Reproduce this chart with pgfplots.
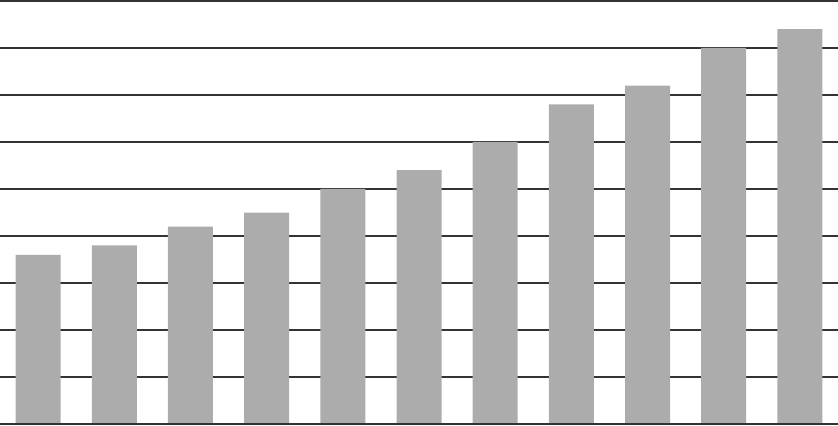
\documentclass[border=0pt]{standalone}
\usepackage{pgfplots}
\pgfplotsset{compat=1.18}
\definecolor{barc}{HTML}{ACACAC}
\definecolor{gridc}{HTML}{333333}
\begin{document}
\begin{tikzpicture}
\begin{axis}[
  width=838pt, height=425pt, scale only axis,
  xmin=0.5, xmax=11.5,
  ymin=-0.02, ymax=9.02,
  axis line style={draw=none},
  xtick=\empty,
  ytick={0,1,2,3,4,5,6,7,8,9},
  yticklabels={},
  major tick length=0pt,
  ymajorgrids,
  grid style={line width=1.8pt, color=gridc},
  clip=false,
]
\addplot[ybar, bar width=45pt, fill=barc, draw=none] coordinates {
(1,3.6) (2,3.8) (3,4.2) (4,4.5) (5,5.0) (6,5.4) (7,6.0) (8,6.8) (9,7.2) (10,8.0) (11,8.4)};
\draw[line width=1.8pt, gridc] (axis cs:0.5,0) -- (axis cs:11.5,0);
\end{axis}
\pgfresetboundingbox
\useasboundingbox (current axis.south west) rectangle (current axis.north east);
\end{tikzpicture}
\end{document}
